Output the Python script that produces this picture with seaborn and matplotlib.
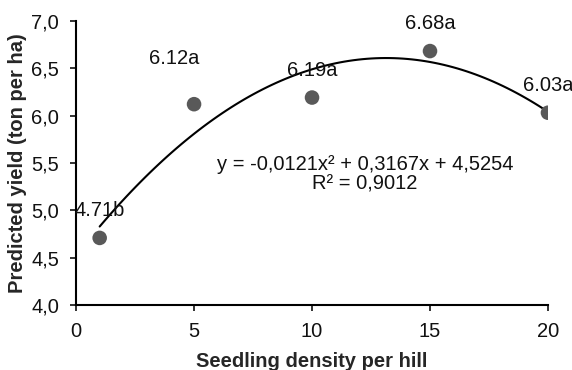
import numpy as np
import pandas as pd
import seaborn as sns
import matplotlib.pyplot as plt
from matplotlib.ticker import FuncFormatter

density = [1, 5, 10, 15, 20]
yield_t = [4.71, 6.12, 6.19, 6.68, 6.03]
labels = ['4.71b', '6.12a', '6.19a', '6.68a', '6.03a']
# label offsets in points (dx, dy)
offsets = [(0, 19.5), (-14, 33), (0, 19.5), (0, 19.5), (0, 19.5)]

df = pd.DataFrame({'density': density, 'yield': yield_t})

sns.set_style('ticks')
plt.rcParams['font.family'] = ['Liberation Sans', 'DejaVu Sans']
fs = 14.5

fig, ax = plt.subplots(figsize=(5.72, 3.7), dpi=100)
fig.subplots_adjust(left=0.133, right=0.958, top=0.944, bottom=0.175)

sns.regplot(data=df, x='density', y='yield', order=2, ci=None, ax=ax,
            scatter=False, line_kws={'color': 'black', 'lw': 1.5})
sns.scatterplot(data=df, x='density', y='yield', ax=ax, color='#595959',
                s=110, edgecolor='none', zorder=3)

for x, y, lab, (dx, dy) in zip(density, yield_t, labels, offsets):
    ax.annotate(lab, (x, y), xytext=(dx, dy), textcoords='offset points',
                ha='center', va='center', fontsize=fs, color='#111111')

ax.text(0.612, 0.46, 'y = -0,0121x² + 0,3167x + 4,5254\nR² = 0,9012',
        transform=ax.transAxes, ha='center', va='center', fontsize=fs,
        linespacing=1.05, color='#111111')

ax.set_xlim(0, 20)
ax.set_ylim(4.0, 7.0)
ax.set_xticks([0, 5, 10, 15, 20])
ax.set_yticks(np.arange(4.0, 7.01, 0.5))
ax.yaxis.set_major_formatter(FuncFormatter(lambda v, p: f'{v:.1f}'.replace('.', ',')))
ax.tick_params(labelsize=fs, colors='#111111', length=4.3, width=1.2, pad=8)
for s in ['left', 'bottom']:
    ax.spines[s].set_color('black')
    ax.spines[s].set_linewidth(1.5)
sns.despine(ax=ax)

ax.set_xlabel('Seedling density per hill', fontsize=fs, fontweight='bold', labelpad=8)
ax.set_ylabel('Predicted yield (ton per ha)', fontsize=fs, fontweight='bold', labelpad=3)

plt.savefig('out.png', dpi=100)
